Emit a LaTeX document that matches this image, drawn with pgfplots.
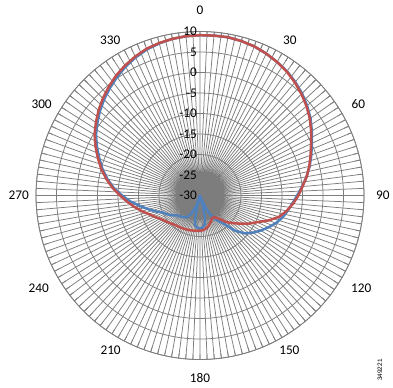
\documentclass[border=0pt]{standalone}
\usepackage{pgfplots}
\pgfplotsset{compat=1.18}
\usepackage{pgfplotstable}
\usepgfplotslibrary{polar}
\usepackage{fontspec}
\setmainfont{Carlito}
\newfontfamily\arialf{Liberation Sans}
\definecolor{gridgray}{RGB}{125,125,125}
\definecolor{exred}{RGB}{192,80,77}
\definecolor{exblue}{RGB}{79,129,189}

\pgfplotstableread{
a v
0 9.1
5 9.15
10 9.2
15 9.0
20 8.7
25 8.2
30 7.6
35 6.9
40 6.0
45 5.0
50 3.9
55 2.7
60 1.3
65 -0.1
70 -1.3
75 -2.4
80 -3.6
85 -4.9
90 -6.0
95 -7.2
100 -8.5
105 -10.0
110 -12.2
115 -14.6
120 -16.3
125 -18.0
130 -19.5
135 -20.8
140 -22.5
145 -23.5
150 -23.8
155 -23.4
160 -22.8
165 -22.2
170 -21.8
175 -21.5
180 -21.4
185 -21.4
190 -21.3
195 -21.2
200 -21.1
210 -20.9
220 -20.6
230 -19.8
240 -18.7
245 -17.8
250 -16.7
255 -15.3
260 -13.8
265 -12.2
270 -10.5
275 -8.6
280 -6.8
285 -5.1
290 -3.5
295 -1.9
300 -0.3
305 1.0
310 2.3
315 3.5
320 4.6
325 5.7
330 6.6
335 7.4
340 8.1
345 8.5
350 8.8
355 9.0
360 9.1
}\redtab

\pgfplotstableread{
a v
0 9.1
5 9.15
10 9.2
15 9.0
20 8.7
25 8.2
30 7.6
35 7.0
40 6.15
45 5.2
50 4.1
55 2.9
60 1.5
65 0.1
70 -1.1
75 -2.3
80 -3.6
85 -5.0
90 -6.3
95 -7.4
100 -8.3
105 -9.2
110 -10.3
115 -11.6
120 -12.9
125 -14.2
130 -15.6
135 -17.8
140 -21.0
145 -22.6
150 -24.0
155 -26.0
160 -29.0
162.5 -30
165 -27.5
167.5 -24.5
170 -23.0
175 -22.2
180 -21.9
185 -22.1
190 -22.8
192.5 -25
195 -28
197.5 -30
200 -27.5
205 -25.2
210 -24.0
215 -23.5
220 -23.2
225 -22.9
230 -22.5
235 -21.6
240 -20.8
245 -20.1
250 -18.6
255 -17.0
260 -15.2
265 -13.0
270 -11.0
275 -8.9
280 -7.1
285 -5.4
290 -3.9
295 -2.3
300 -0.7
305 0.6
310 1.9
315 3.1
320 4.2
325 5.3
330 6.3
335 7.15
340 7.9
345 8.4
350 8.8
355 9.0
360 9.1
}\bluetab

\begin{document}
\begin{tikzpicture}
\useasboundingbox (-200bp,-192.5bp) rectangle (193bp,195.5bp);
\begin{polaraxis}[
  at={(0,0)}, anchor=center,
  scale only axis, width=328bp, height=328bp,
  xmin=0, xmax=360, ymin=0, ymax=40,
  xtick={0,2.5,...,357.5},
  xticklabels={},
  ytick={0,5,...,40},
  yticklabels={},
  grid=major,
  major grid style={draw=gridgray, line width=0.75bp},
  axis line style={draw=gridgray, line width=0.75bp},
  xtick style={draw=gridgray, line width=0.75bp},
  xtick align=outside, major tick length=5bp,
  ytick style={draw=none},
  clip=false,
]
\addplot[no markers, exblue, line width=2.5bp, line join=round] table[x expr=90-\thisrow{a}, y expr=\thisrow{v}+30] {\bluetab};
\addplot[no markers, exred, line width=2.5bp, line join=round] table[x expr=90-\thisrow{a}, y expr=\thisrow{v}+30] {\redtab};

\begin{scope}[every node/.style={font=\fontsize{13.3}{16}\selectfont, inner sep=0pt, fill=none}]
\node[anchor=east, xshift=-3bp] at (axis cs:90,40) {10};
\node[anchor=east, xshift=-3bp] at (axis cs:90,35) {5};
\node[anchor=east, xshift=-3bp] at (axis cs:90,30) {0};
\node[anchor=east, xshift=-3bp] at (axis cs:90,25) {-5};
\node[anchor=east, xshift=-3bp] at (axis cs:90,20) {-10};
\node[anchor=east, xshift=-3bp] at (axis cs:90,15) {-15};
\node[anchor=east, xshift=-3bp] at (axis cs:90,10) {-20};
\node[anchor=east, xshift=-3bp] at (axis cs:90,5) {-25};
\node[anchor=east, xshift=-3bp] at (axis cs:90,0) {-30};

\node at (axis cs:90,45.2) {0};
\node at (axis cs:60,43.8) {30};
\node at (axis cs:30,44.6) {60};
\node at (axis cs:0,44.6) {90};
\node at (axis cs:-30,45.4) {120};
\node at (axis cs:-60,43.6) {150};
\node at (axis cs:-90,44.5) {180};
\node at (axis cs:-120,43.6) {210};
\node at (axis cs:-150,45.4) {240};
\node at (axis cs:-180,44.2) {270};
\node at (axis cs:-210,44.6) {300};
\node at (axis cs:-240,43.8) {330};
\end{scope}
\end{polaraxis}
\node[rotate=90, font=\arialf\fontsize{6.5}{7}\selectfont, inner sep=0pt] at (180bp,-174.5bp) {349221};
\end{tikzpicture}
\end{document}
